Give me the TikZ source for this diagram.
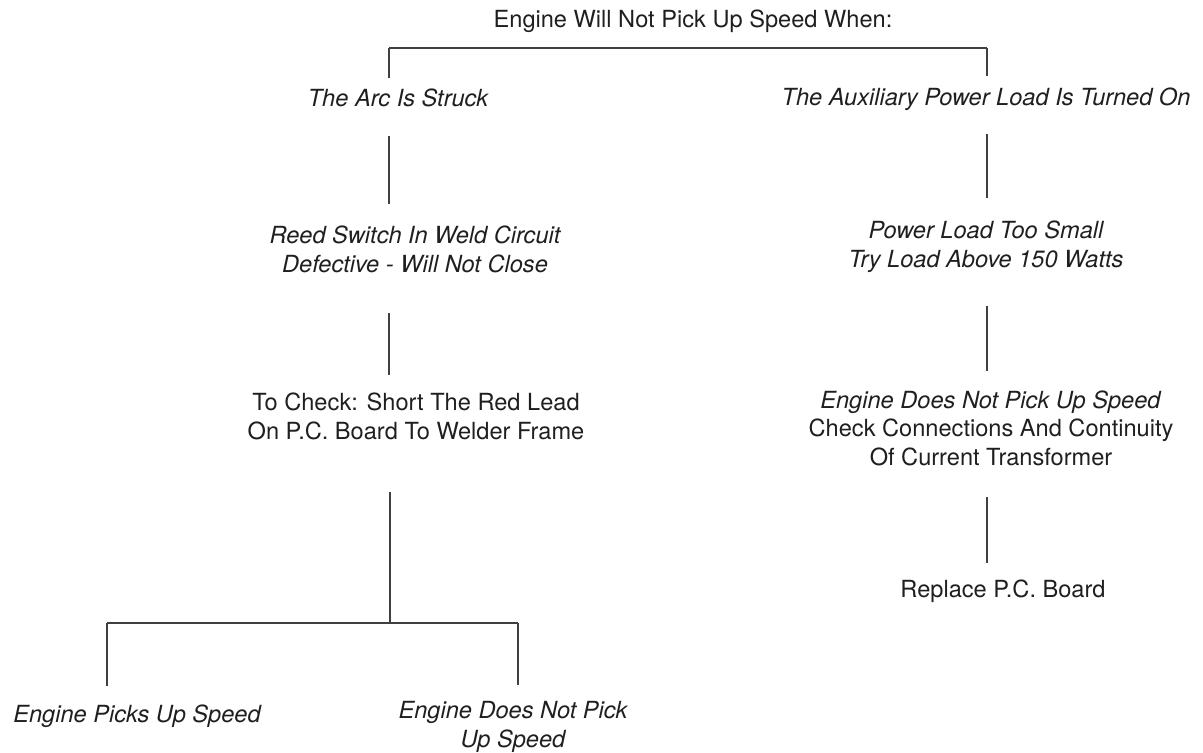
\documentclass[tikz,border=0pt]{standalone}
\usepackage{fontspec}
\setmainfont{TeX Gyre Heros}
\usepackage{tikz}
\tikzset{
  txt/.style={inner sep=0pt,outer sep=0pt,align=center,anchor=base,text=black!88,
    font=\fontsize{11.8}{14.25}\selectfont},
  itx/.style={txt,font=\fontsize{11.8}{14.25}\selectfont\itshape},
  link/.style={draw=black!75,line width=0.6pt}
}
\begin{document}
\begin{tikzpicture}[x=0.5pt,y=-0.5pt]
\useasboundingbox(0,0)rectangle(1203,752);
%top
\node[txt](title)at(693,27){Engine Will Not Pick Up Speed When:};
\coordinate(topL)at(389,48);
\coordinate(topR)at(987,48);
\node[itx](arc)at(398,106){The Arc Is Struck};
\node[itx](aux)at(986,105){The Auxiliary Power Load Is Turned On};
\draw[link](topL)--(topR);
\draw[link,shorten >=5pt](topL)--(topL|-arc.north);
\draw[link,shorten >=5.5pt](topR)--(topR|-aux.north);
%left branch (base = last line)
\node[itx](reed)at(415,272){Reed Switch In Weld Circuit\\Defective - Will Not Close};
\node[txt](check)at(416,439){To Check: Short The Red Lead\\On P.C. Board To Welder Frame};
\coordinate(junc)at(390,623);
\coordinate(jL)at(107,623);
\coordinate(jR)at(518,623);
\node[itx](picks)at(137,722){Engine Picks Up Speed};
\node[itx](nopickB)at(513,747){Engine Does Not Pick\\Up Speed};
\draw[link,shorten <=15pt,shorten >=11pt](arc.south-|topL)--(reed.north-|topL);
\draw[link,shorten <=20.5pt,shorten >=9pt](reed.south-|topL)--(check.north-|topL);
\draw[link,shorten <=26.5pt](check.south-|junc)--(junc);
\draw[link](jL)--(jR);
\draw[link,shorten >=9pt](jL)--(jL|-picks.north);
\draw[link,shorten >=8pt](jR)--(jR|-nopickB.north);
%right branch
\node[itx](power)at(986,267){Power Load Too Small\\Try Load Above 150 Watts};
\node[txt](nopick)at(991,465){\textit{Engine Does Not Pick Up Speed}\\Check Connections And Continuity\\Of Current Transformer};
\node[txt](replace)at(1003,597){Replace P.C. Board};
\draw[link,shorten <=12pt,shorten >=11.5pt](aux.south-|topR)--(power.north-|topR);
\draw[link,shorten <=17pt,shorten >=9.5pt](power.south-|topR)--(nopick.north-|topR);
\draw[link,shorten <=16pt,shorten >=8pt](nopick.south-|topR)--(replace.north-|topR);
\end{tikzpicture}
\end{document}
